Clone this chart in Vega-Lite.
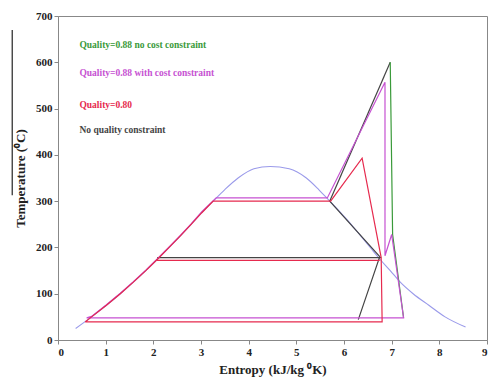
{
  "$schema": "https://vega.github.io/schema/vega-lite/v6.json",
  "width": 429,
  "height": 324,
  "autosize": {"type": "none"},
  "padding": {"left": 58, "top": 16, "right": 5, "bottom": 52},
  "background": "white",
  "config": {
    "view": {"stroke": "#888888", "strokeWidth": 1},
    "font": "Liberation Serif",
    "axis": {
      "labelFont": "Liberation Serif", "labelFontWeight": "bold", "labelFontSize": 11, "labelColor": "#222",
      "titleFont": "Liberation Serif", "titleFontWeight": "bold", "titleFontSize": 13, "titleColor": "#222",
      "domainColor": "#888", "tickColor": "#888", "grid": false, "tickSize": 4
    }
  },
  "datasets": {
    "curves": [
      {"c":"Saturation","p":"D","o":1,"s":0.37,"T":25},{"c":"Saturation","p":"D","o":2,"s":0.704,"T":50},{"c":"Saturation","p":"D","o":3,"s":1.016,"T":75},{"c":"Saturation","p":"D","o":4,"s":1.307,"T":100},{"c":"Saturation","p":"D","o":5,"s":1.581,"T":125},{"c":"Saturation","p":"D","o":6,"s":1.842,"T":150},{"c":"Saturation","p":"D","o":7,"s":2.091,"T":175},{"c":"Saturation","p":"D","o":8,"s":2.331,"T":200},{"c":"Saturation","p":"D","o":9,"s":2.567,"T":225},{"c":"Saturation","p":"D","o":10,"s":2.793,"T":250},{"c":"Saturation","p":"D","o":11,"s":3.017,"T":275},{"c":"Saturation","p":"D","o":12,"s":3.255,"T":300},{"c":"Saturation","p":"D","o":13,"s":3.5,"T":325},{"c":"Saturation","p":"D","o":14,"s":3.778,"T":350},{"c":"Saturation","p":"D","o":15,"s":4.11,"T":370},{"c":"Saturation","p":"D","o":16,"s":4.45,"T":375},{"c":"Saturation","p":"D","o":17,"s":4.85,"T":370},{"c":"Saturation","p":"D","o":18,"s":5.21,"T":350},{"c":"Saturation","p":"D","o":19,"s":5.47,"T":325},{"c":"Saturation","p":"D","o":20,"s":5.7,"T":300},{"c":"Saturation","p":"D","o":21,"s":5.93,"T":275},{"c":"Saturation","p":"D","o":22,"s":6.15,"T":250},{"c":"Saturation","p":"D","o":23,"s":6.35,"T":225},{"c":"Saturation","p":"D","o":24,"s":6.55,"T":200},{"c":"Saturation","p":"D","o":25,"s":6.75,"T":175},{"c":"Saturation","p":"D","o":26,"s":6.97,"T":150},{"c":"Saturation","p":"D","o":27,"s":7.18,"T":125},{"c":"Saturation","p":"D","o":28,"s":7.45,"T":100},{"c":"Saturation","p":"D","o":29,"s":7.78,"T":75},{"c":"Saturation","p":"D","o":30,"s":8.12,"T":50},{"c":"Saturation","p":"D","o":31,"s":8.55,"T":28}
    ],
    "cycles": [
      {"c":"No quality constraint","k":1,"p":"B","o":1,"s":5.7,"T":300},{"c":"No quality constraint","k":1,"p":"B","o":2,"s":6.75,"T":180},{"c":"No quality constraint","k":1,"p":"B","o":3,"s":6.3,"T":44},
      {"c":"No quality constraint","k":1,"p":"B2","o":1,"s":2.08,"T":178},{"c":"No quality constraint","k":1,"p":"B2","o":2,"s":6.78,"T":178},
      {"c":"No quality constraint","k":1,"p":"B3","o":1,"s":5.7,"T":300},{"c":"No quality constraint","k":1,"p":"B3","o":2,"s":6.97,"T":600},

      {"c":"Quality=0.88 no cost constraint","k":2,"p":"G","o":1,"s":6.97,"T":600},{"c":"Quality=0.88 no cost constraint","k":2,"p":"G","o":2,"s":7.02,"T":228},{"c":"Quality=0.88 no cost constraint","k":2,"p":"G","o":3,"s":7.25,"T":48},

      {"c":"Quality=0.88 with cost constraint","k":3,"p":"P","o":1,"s":0.6,"T":48},{"c":"Quality=0.88 with cost constraint","k":3,"p":"P","o":2,"s":0.704,"T":51},{"c":"Quality=0.88 with cost constraint","k":3,"p":"P","o":3,"s":1.016,"T":76},{"c":"Quality=0.88 with cost constraint","k":3,"p":"P","o":4,"s":1.307,"T":101},{"c":"Quality=0.88 with cost constraint","k":3,"p":"P","o":5,"s":1.581,"T":126},{"c":"Quality=0.88 with cost constraint","k":3,"p":"P","o":6,"s":1.842,"T":151},{"c":"Quality=0.88 with cost constraint","k":3,"p":"P","o":7,"s":2.091,"T":176},{"c":"Quality=0.88 with cost constraint","k":3,"p":"P","o":8,"s":2.331,"T":201},{"c":"Quality=0.88 with cost constraint","k":3,"p":"P","o":9,"s":2.567,"T":226},{"c":"Quality=0.88 with cost constraint","k":3,"p":"P","o":10,"s":2.793,"T":251},{"c":"Quality=0.88 with cost constraint","k":3,"p":"P","o":11,"s":3.017,"T":277},{"c":"Quality=0.88 with cost constraint","k":3,"p":"P","o":12,"s":3.32,"T":307},{"c":"Quality=0.88 with cost constraint","k":3,"p":"P","o":13,"s":5.65,"T":307},{"c":"Quality=0.88 with cost constraint","k":3,"p":"P","o":14,"s":6.86,"T":557},{"c":"Quality=0.88 with cost constraint","k":3,"p":"P","o":15,"s":6.86,"T":182},{"c":"Quality=0.88 with cost constraint","k":3,"p":"P","o":16,"s":7.0,"T":228},{"c":"Quality=0.88 with cost constraint","k":3,"p":"P","o":17,"s":7.25,"T":48},{"c":"Quality=0.88 with cost constraint","k":3,"p":"P","o":18,"s":0.6,"T":48},

      {"c":"Quality=0.80","k":4,"p":"R","o":1,"s":0.57,"T":39},{"c":"Quality=0.80","k":4,"p":"R","o":2,"s":0.704,"T":50},{"c":"Quality=0.80","k":4,"p":"R","o":3,"s":1.016,"T":75},{"c":"Quality=0.80","k":4,"p":"R","o":4,"s":1.307,"T":100},{"c":"Quality=0.80","k":4,"p":"R","o":5,"s":1.581,"T":125},{"c":"Quality=0.80","k":4,"p":"R","o":6,"s":1.842,"T":150},{"c":"Quality=0.80","k":4,"p":"R","o":7,"s":2.091,"T":175},{"c":"Quality=0.80","k":4,"p":"R","o":8,"s":2.331,"T":200},{"c":"Quality=0.80","k":4,"p":"R","o":9,"s":2.567,"T":225},{"c":"Quality=0.80","k":4,"p":"R","o":10,"s":2.793,"T":250},{"c":"Quality=0.80","k":4,"p":"R","o":11,"s":3.017,"T":275},{"c":"Quality=0.80","k":4,"p":"R","o":12,"s":3.255,"T":300},{"c":"Quality=0.80","k":4,"p":"R","o":13,"s":5.72,"T":300},{"c":"Quality=0.80","k":4,"p":"R","o":14,"s":6.38,"T":393},{"c":"Quality=0.80","k":4,"p":"R","o":15,"s":6.78,"T":178},{"c":"Quality=0.80","k":4,"p":"R","o":16,"s":6.8,"T":39},{"c":"Quality=0.80","k":4,"p":"R","o":17,"s":0.57,"T":39},
      {"c":"Quality=0.80","k":4,"p":"R2","o":1,"s":2.07,"T":172},{"c":"Quality=0.80","k":4,"p":"R2","o":2,"s":6.75,"T":172}
    ],
    "labels": [
      {"c":"Quality=0.88 no cost constraint","s":0.45,"T":637},
      {"c":"Quality=0.88 with cost constraint","s":0.45,"T":577},
      {"c":"Quality=0.80","s":0.45,"T":508},
      {"c":"No quality constraint","s":0.45,"T":453}
    ],
    "stray": [{"s":-0.96,"T":313,"T2":670}]
  },
  "encoding": {
    "x": {"field": "s", "type": "quantitative", "scale": {"domain": [0, 9], "nice": false}, "axis": {"title": "Entropy (kJ/kg ⁰K)", "values": [0,1,2,3,4,5,6,7,8,9], "titlePadding": 6}},
    "y": {"field": "T", "type": "quantitative", "scale": {"domain": [0, 700], "nice": false}, "axis": {"title": "Temperature (⁰C)", "values": [0,100,200,300,400,500,600,700], "titlePadding": 8}},
    "color": {"field": "c", "type": "nominal", "legend": null,
      "scale": {"domain": ["Saturation","Quality=0.88 no cost constraint","Quality=0.88 with cost constraint","Quality=0.80","No quality constraint"],
                "range": ["#9a9aea","#3a9a3a","#c652d2","#e62a4e","#444444"]}}
  },
  "layer": [
    {
      "data": {"name": "curves"},
      "mark": {"type": "line", "interpolate": "monotone", "strokeWidth": 1.1},
      "encoding": {"order": {"field": "o", "type": "quantitative"}}
    },
    {
      "data": {"name": "cycles"},
      "transform": [{"filter": "datum.k == 1"}],
      "mark": {"type": "line", "strokeWidth": 1.2},
      "encoding": {"order": {"field": "o", "type": "quantitative"}, "detail": {"field": "p"}}
    },
    {
      "data": {"name": "cycles"},
      "transform": [{"filter": "datum.k == 2"}],
      "mark": {"type": "line", "strokeWidth": 1.2},
      "encoding": {"order": {"field": "o", "type": "quantitative"}, "detail": {"field": "p"}}
    },
    {
      "data": {"name": "cycles"},
      "transform": [{"filter": "datum.k == 3"}],
      "mark": {"type": "line", "strokeWidth": 1.2},
      "encoding": {"order": {"field": "o", "type": "quantitative"}, "detail": {"field": "p"}}
    },
    {
      "data": {"name": "cycles"},
      "transform": [{"filter": "datum.k == 4"}],
      "mark": {"type": "line", "strokeWidth": 1.2},
      "encoding": {"order": {"field": "o", "type": "quantitative"}, "detail": {"field": "p"}}
    },
    {
      "data": {"name": "labels"},
      "mark": {"type": "text", "align": "left", "baseline": "middle", "font": "Liberation Serif", "fontWeight": "bold", "fontSize": 9.5},
      "encoding": {"text": {"field": "c"}}
    },
    {
      "data": {"name": "stray"},
      "mark": {"type": "rule", "strokeWidth": 1.3, "clip": false},
      "encoding": {"color": {"value": "#333"}, "y2": {"field": "T2"}}
    }
  ]
}
